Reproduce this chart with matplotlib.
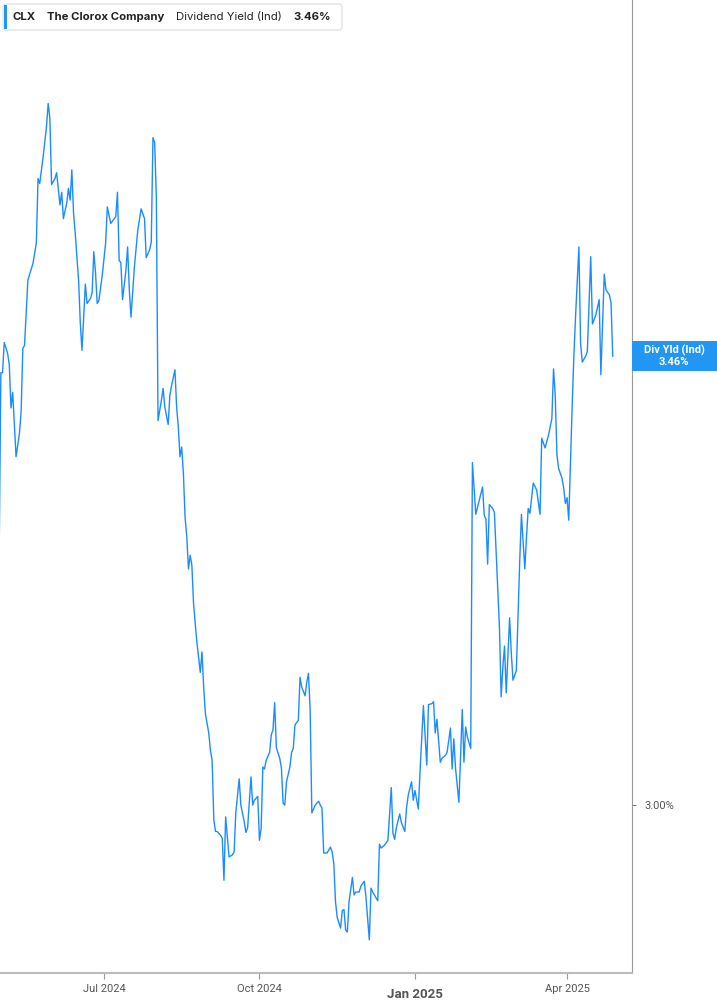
import pandas as pd
import matplotlib.pyplot as plt
from matplotlib.patches import FancyBboxPatch, Rectangle

# ==========================================
# DATA (CLX dividend yield)
# ==========================================
FECHAS = [
    "2024-04-30", "2024-05-01", "2024-05-02", "2024-05-03", "2024-05-05", "2024-05-06",
    "2024-05-07", "2024-05-08", "2024-05-10", "2024-05-12", "2024-05-13", "2024-05-14",
    "2024-05-15", "2024-05-17", "2024-05-20", "2024-05-22", "2024-05-23", "2024-05-24",
    "2024-05-26", "2024-05-28", "2024-05-29", "2024-05-30", "2024-05-31", "2024-06-02",
    "2024-06-03", "2024-06-05", "2024-06-06", "2024-06-07", "2024-06-09", "2024-06-10",
    "2024-06-11", "2024-06-12", "2024-06-13", "2024-06-14", "2024-06-16", "2024-06-17",
    "2024-06-18", "2024-06-19", "2024-06-20", "2024-06-21", "2024-06-23", "2024-06-24",
    "2024-06-25", "2024-06-26", "2024-06-27", "2024-06-28", "2024-06-30", "2024-07-02",
    "2024-07-03", "2024-07-05", "2024-07-08", "2024-07-09", "2024-07-10", "2024-07-11",
    "2024-07-12", "2024-07-14", "2024-07-15", "2024-07-16", "2024-07-17", "2024-07-19",
    "2024-07-21", "2024-07-23", "2024-07-25", "2024-07-26", "2024-07-28", "2024-07-29",
    "2024-07-30", "2024-07-31", "2024-08-01", "2024-08-02", "2024-08-04", "2024-08-05",
    "2024-08-06", "2024-08-08", "2024-08-09", "2024-08-10", "2024-08-12", "2024-08-13",
    "2024-08-14", "2024-08-15", "2024-08-16", "2024-08-17", "2024-08-18", "2024-08-19",
    "2024-08-20", "2024-08-21", "2024-08-22", "2024-08-23", "2024-08-24", "2024-08-25",
    "2024-08-27", "2024-08-28", "2024-08-29", "2024-08-30", "2024-09-01", "2024-09-02",
    "2024-09-03", "2024-09-04", "2024-09-05", "2024-09-06", "2024-09-08", "2024-09-09",
    "2024-09-10", "2024-09-11", "2024-09-12", "2024-09-13", "2024-09-15", "2024-09-16",
    "2024-09-17", "2024-09-19", "2024-09-20", "2024-09-22", "2024-09-23", "2024-09-24",
    "2024-09-26", "2024-09-27", "2024-09-28", "2024-09-30", "2024-10-01", "2024-10-02",
    "2024-10-03", "2024-10-04", "2024-10-05", "2024-10-07", "2024-10-08", "2024-10-09",
    "2024-10-10", "2024-10-11", "2024-10-13", "2024-10-14", "2024-10-15", "2024-10-16",
    "2024-10-17", "2024-10-19", "2024-10-20", "2024-10-21", "2024-10-22", "2024-10-24",
    "2024-10-25", "2024-10-26", "2024-10-28", "2024-10-29", "2024-10-30", "2024-10-31",
    "2024-11-01", "2024-11-03", "2024-11-05", "2024-11-06", "2024-11-07", "2024-11-08",
    "2024-11-10", "2024-11-12", "2024-11-13", "2024-11-14", "2024-11-15", "2024-11-16",
    "2024-11-18", "2024-11-19", "2024-11-20", "2024-11-21", "2024-11-22", "2024-11-23",
    "2024-11-25", "2024-11-26", "2024-11-27", "2024-11-29", "2024-11-30", "2024-12-02",
    "2024-12-03", "2024-12-05", "2024-12-06", "2024-12-07", "2024-12-08", "2024-12-10",
    "2024-12-11", "2024-12-12", "2024-12-14", "2024-12-16", "2024-12-18", "2024-12-19",
    "2024-12-20", "2024-12-21", "2024-12-23", "2024-12-24", "2024-12-26", "2024-12-27",
    "2024-12-28", "2024-12-30", "2024-12-31", "2025-01-01", "2025-01-03", "2025-01-04",
    "2025-01-06", "2025-01-08", "2025-01-09", "2025-01-11", "2025-01-12", "2025-01-13",
    "2025-01-14", "2025-01-16", "2025-01-17", "2025-01-19", "2025-01-20", "2025-01-22",
    "2025-01-23", "2025-01-24", "2025-01-25", "2025-01-27", "2025-01-29", "2025-01-30",
    "2025-01-31", "2025-02-01", "2025-02-03", "2025-02-04", "2025-02-06", "2025-02-08",
    "2025-02-10", "2025-02-11", "2025-02-12", "2025-02-13", "2025-02-14", "2025-02-16",
    "2025-02-17", "2025-02-19", "2025-02-20", "2025-02-21", "2025-02-22", "2025-02-23",
    "2025-02-24", "2025-02-26", "2025-02-27", "2025-02-28", "2025-03-01", "2025-03-02",
    "2025-03-04", "2025-03-05", "2025-03-07", "2025-03-08", "2025-03-09", "2025-03-10",
    "2025-03-12", "2025-03-14", "2025-03-16", "2025-03-17", "2025-03-19", "2025-03-21",
    "2025-03-23", "2025-03-24", "2025-03-25", "2025-03-26", "2025-03-27", "2025-03-29",
    "2025-03-30", "2025-03-31", "2025-04-01", "2025-04-02", "2025-04-04", "2025-04-05",
    "2025-04-06", "2025-04-08", "2025-04-09", "2025-04-10", "2025-04-12", "2025-04-13",
    "2025-04-15", "2025-04-16", "2025-04-18", "2025-04-20", "2025-04-21", "2025-04-23",
    "2025-04-24", "2025-04-26", "2025-04-27", "2025-04-28",
]

RENDIMIENTO = [
    3.256, 3.443, 3.443, 3.474, 3.463, 3.451, 3.407, 3.423, 3.357, 3.381, 3.403, 3.468,
    3.471, 3.538, 3.555, 3.576, 3.642, 3.637, 3.664, 3.695, 3.719, 3.704, 3.636, 3.642,
    3.648, 3.615, 3.628, 3.601, 3.617, 3.632, 3.620, 3.651, 3.607, 3.586, 3.538, 3.494,
    3.466, 3.500, 3.534, 3.514, 3.519, 3.525, 3.567, 3.546, 3.514, 3.517, 3.543, 3.576,
    3.613, 3.596, 3.603, 3.628, 3.558, 3.556, 3.518, 3.548, 3.572, 3.528, 3.500, 3.551,
    3.589, 3.611, 3.601, 3.561, 3.569, 3.577, 3.684, 3.679, 3.623, 3.394, 3.415, 3.427,
    3.408, 3.390, 3.420, 3.430, 3.446, 3.408, 3.387, 3.357, 3.367, 3.340, 3.295, 3.275,
    3.242, 3.256, 3.246, 3.207, 3.186, 3.167, 3.136, 3.157, 3.121, 3.094, 3.074, 3.056,
    3.046, 2.985, 2.973, 2.973, 2.969, 2.966, 2.923, 2.988, 2.967, 2.947, 2.949, 2.952,
    2.992, 3.027, 3.000, 2.983, 2.972, 2.977, 3.029, 3.000, 3.005, 3.009, 2.964, 2.976,
    3.039, 3.037, 3.046, 3.054, 3.072, 3.077, 3.105, 3.059, 3.048, 3.038, 3.002, 3.000,
    3.024, 3.039, 3.054, 3.058, 3.082, 3.087, 3.131, 3.121, 3.112, 3.126, 3.135, 3.097,
    2.992, 3.000, 3.004, 3.000, 2.997, 2.951, 2.951, 2.957, 2.952, 2.940, 2.901, 2.885,
    2.874, 2.892, 2.893, 2.872, 2.870, 2.901, 2.926, 2.908, 2.911, 2.911, 2.917, 2.922,
    2.906, 2.862, 2.915, 2.911, 2.908, 2.902, 2.960, 2.956, 2.959, 2.964, 3.018, 2.971,
    2.965, 2.977, 2.991, 2.982, 2.973, 2.997, 3.010, 3.024, 3.005, 3.015, 2.996, 3.034,
    3.102, 3.041, 3.103, 3.104, 3.106, 3.074, 3.088, 3.044, 3.048, 3.051, 3.054, 3.079,
    3.037, 3.068, 3.038, 3.003, 3.098, 3.044, 3.080, 3.070, 3.058, 3.351, 3.298, 3.312,
    3.326, 3.297, 3.293, 3.247, 3.308, 3.304, 3.300, 3.223, 3.182, 3.111, 3.141, 3.163,
    3.115, 3.192, 3.156, 3.128, 3.133, 3.138, 3.251, 3.298, 3.242, 3.275, 3.304, 3.299,
    3.330, 3.323, 3.298, 3.376, 3.366, 3.379, 3.396, 3.447, 3.420, 3.359, 3.345, 3.335,
    3.325, 3.309, 3.315, 3.292, 3.408, 3.459, 3.500, 3.572, 3.473, 3.454, 3.460, 3.465,
    3.562, 3.493, 3.502, 3.518, 3.441, 3.544, 3.528, 3.523, 3.515, 3.460,
]

TICKS_X = ["2024-07-01", "2024-10-01", "2025-01-01", "2025-04-01"]
ETIQUETAS_X = ["Jul 2024", "Oct 2024", "Jan 2025", "Apr 2025"]
TICKS_Y = [3.00]
ETIQUETAS_Y = ["3.00%"]
ULTIMO = "3.46%"

AZUL_LINEA = "#1a8cff"
AZUL_CAJA = "#2196f3"
GRIS = "#555555"

W, H = 717, 1005

fig = plt.figure(figsize=(W / 100, H / 100), dpi=100)
ax = fig.add_axes([0, 1 - 973 / H, 632 / W, 973 / H])

fechas = pd.to_datetime(FECHAS)
ax.plot(fechas, RENDIMIENTO, color=AZUL_LINEA, linewidth=1.0)

ax.set_xlim(pd.Timestamp("2024-04-30 12:00"), pd.Timestamp("2025-05-09 10:00"))
ax.set_ylim(2.828, 3.825)

# spines
for lado in ["left", "top"]:
    ax.spines[lado].set_visible(False)
ax.spines["right"].set_color("#999999")
ax.spines["bottom"].set_color("#bbbbbb")
ax.spines["bottom"].set_linewidth(1.5)

# eje x
ax.set_xticks(pd.to_datetime(TICKS_X))
ax.set_xticklabels(ETIQUETAS_X)
ax.tick_params(axis="x", direction="out", length=4, color="#999999",
               labelsize=8, labelcolor=GRIS, pad=4)
for lbl in ax.get_xticklabels():
    lbl.set_family("Roboto")
    if lbl.get_text() == "Jan 2025":
        lbl.set_fontweight("bold")
        lbl.set_fontsize(9.5)
        lbl.set_y(-0.004)

# eje y a la derecha
ax.yaxis.tick_right()
ax.set_yticks(TICKS_Y)
ax.set_yticklabels(ETIQUETAS_Y)
ax.tick_params(axis="y", direction="out", length=3, color="#777777",
               labelsize=8, labelcolor=GRIS, pad=6)
for lbl in ax.get_yticklabels():
    lbl.set_family("Roboto")

# caja con el ultimo valor
ultimo_val = RENDIMIENTO[-1]
y_fig = ax.transData.transform((0, ultimo_val))[1] / H
caja_h = 30 / H
fig.patches.append(Rectangle((632 / W, y_fig - caja_h / 2), 85 / W, caja_h,
                             transform=fig.transFigure, facecolor=AZUL_CAJA,
                             edgecolor="none", zorder=5))
fig.text(674 / W, y_fig + 6 / H, "Div Yld (Ind)", color="white", fontsize=8,
         fontweight="bold", ha="center", va="center", family="Roboto", zorder=6)
fig.text(674 / W, y_fig - 6 / H, ULTIMO, color="white", fontsize=8,
         fontweight="bold", ha="center", va="center", family="Roboto", zorder=6)

# cabecera
fig.patches.append(FancyBboxPatch((3 / W, 1 - 30 / H), 339 / W, 26 / H,
                                  boxstyle="round,pad=0,rounding_size=0.004",
                                  transform=fig.transFigure, facecolor="white",
                                  edgecolor="#e3e3e3", linewidth=1, zorder=5))
fig.patches.append(Rectangle((4 / W, 1 - 29 / H), 3 / W, 24 / H,
                             transform=fig.transFigure, facecolor=AZUL_CAJA,
                             edgecolor="none", zorder=6))
y_cab = 1 - 17 / H
fig.text(13 / W, y_cab, "CLX", fontsize=8.2, fontweight="bold", color="#222222",
         va="center", family="Inter", zorder=7)
fig.text(47 / W, y_cab, "The Clorox Company", fontsize=8.2, fontweight="bold",
         color="#222222", va="center", family="Inter", zorder=7)
fig.text(176 / W, y_cab, "Dividend Yield (Ind)", fontsize=8.2, color="#222222",
         va="center", family="Inter", zorder=7)
fig.text(293 / W, y_cab, ULTIMO, fontsize=8.2, fontweight="bold", color="#222222",
         va="center", family="Inter", zorder=7)

fig.savefig("out.png", dpi=100)
